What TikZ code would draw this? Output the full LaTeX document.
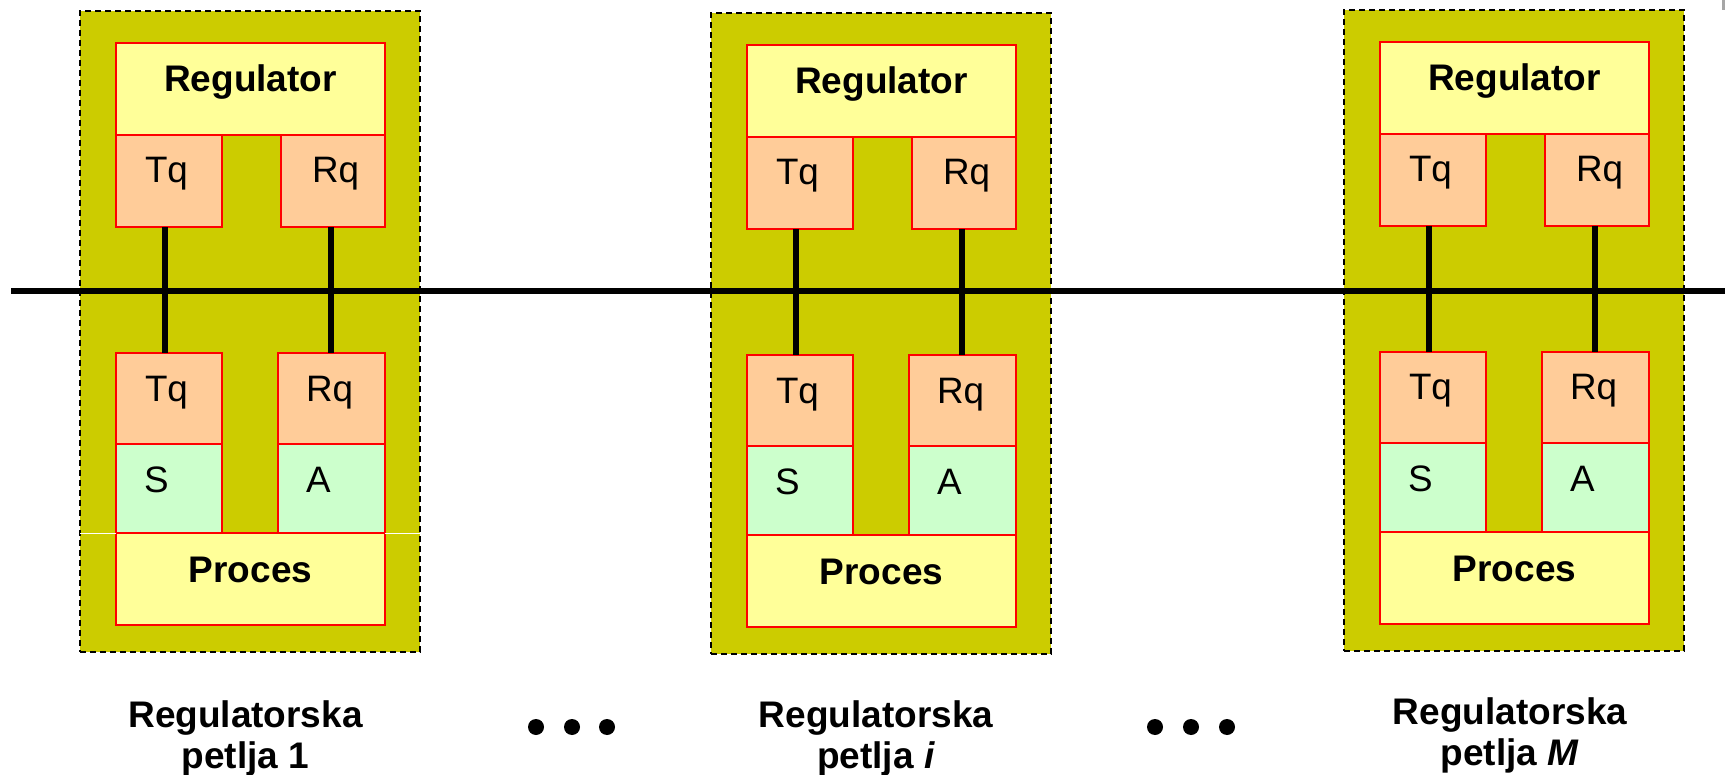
\documentclass[tikz,border=0pt]{standalone}
\usepackage{fontspec}
\setmainfont{Liberation Sans}

\definecolor{loopolive}{RGB}{204,204,0}
\definecolor{partyellow}{RGB}{255,255,153}
\definecolor{partpeach}{RGB}{255,204,153}
\definecolor{partgreen}{RGB}{204,255,204}
\definecolor{partred}{RGB}{255,0,0}

\tikzset{
  every node/.style={inner sep=0pt, outer sep=0pt},
  frame/.style={draw=black, fill=loopolive, line width=0.8pt,
    dash pattern=on 3pt off 2pt, anchor=north west,
    minimum width=170pt, minimum height=320.5pt},
  part/.style={draw=partred, line width=1pt, anchor=north west},
  wide/.style={part, fill=partyellow, minimum width=134.5pt, minimum height=46pt},
  qpart/.style={part, fill=partpeach},
  iopart/.style={part, fill=partgreen},
  plain/.style={font=\fontsize{18.4pt}{21pt}\selectfont, anchor=base west},
  heavy/.style={font=\fontsize{18.5pt}{21pt}\selectfont\bfseries, anchor=base},
  caption/.style={font=\fontsize{18.5pt}{21pt}\selectfont\bfseries, anchor=base},
  wire/.style={line width=2.6pt, black},
  bus/.style={line width=3pt, black},
  dot/.style={circle, fill=black, minimum size=8pt},
}

% one control loop: regulator and process with their queues
\newcommand\ctrlloop[3]{%
  \begin{scope}[shift={(#2,#3)}]
    \node[frame] (#1frame) at (0,0) {};
    \node[wide] (#1reg) at (36,32) {};
    \node[heavy] (#1regtxt) at (170.5,81) {Regulator};
    \node[qpart, minimum width=53pt, minimum height=46pt] (#1tq) at (36,124) {};
    \node[qpart, minimum width=52pt, minimum height=46pt] (#1rq) at (201,124) {};
    \node[plain] (#1tqtxt) at (65,172) {Tq};
    \node[plain] (#1rqtxt) at (232,172) {Rq};
    \node[qpart, minimum width=53pt, minimum height=45.5pt] (#1btq) at (36,342) {};
    \node[qpart, minimum width=53.5pt, minimum height=45.5pt] (#1brq) at (198,342) {};
    \node[plain] (#1btqtxt) at (65,390) {Tq};
    \node[plain] (#1brqtxt) at (226,390) {Rq};
    \node[iopart, minimum width=53pt, minimum height=44.5pt] (#1s) at (36,433) {};
    \node[iopart, minimum width=53.5pt, minimum height=44.5pt] (#1a) at (198,433) {};
    \node[plain] (#1stxt) at (64,481) {S};
    \node[plain] (#1atxt) at (226,481) {A};
    \node[wide] (#1proc) at (36,522) {};
    \node[heavy] (#1proctxt) at (170.5,571) {Proces};
  \end{scope}}

\begin{document}
\begin{tikzpicture}[x=0.5pt, y=-0.5pt]
  \useasboundingbox (0,0) rectangle (1725,775);

  \ctrlloop{p1}{80}{11}
  \ctrlloop{p2}{711}{13}
  \ctrlloop{p3}{1344}{10}

  % thin light seam at the process edge of the first loop
  \draw[white, line width=0.5pt] (p1frame.west |- p1proc.north) -- (p1proc.north west);
  \draw[white, line width=0.5pt] (p1proc.north east) -- (p1frame.east |- p1proc.north);

  % communication bus
  \coordinate (busL) at (11,291);
  \coordinate (busR) at (1725,291);
  \draw[bus] (busL) -- (busR);

  % queue links across the bus
  \foreach \p in {p1,p2,p3} {
    \draw[wire] ([xshift=-2pt]\p tq.south) -- ([xshift=-2pt]\p tq.south |- \p btq.north);
    \draw[wire] ([xshift=-1pt]\p rq.south) -- ([xshift=-1pt]\p rq.south |- \p brq.north);
  }

  % captions
  \node[caption] (c1a) at (245.5,727) {Regulatorska};
  \node[caption] (c1b) at (245.5,768) {petlja 1};
  \node[caption] (c2a) at (876,727) {Regulatorska};
  \node[caption] (c2b) at (876,768) {petlja \textit{i}};
  \node[caption] (c3a) at (1510,724) {Regulatorska};
  \node[caption] (c3b) at (1510,765) {petlja \textit{M}};

  % ellipsis dots between loops
  \node[dot] (d1) at (536,727) {};
  \node[dot] (d2) at (572,727) {};
  \node[dot] (d3) at (607,727) {};
  \node[dot] (d4) at (1155,727) {};
  \node[dot] (d5) at (1191,727) {};
  \node[dot] (d6) at (1227,727) {};

  % small mark in the corner
  \fill[gray!70] (1722,0) rectangle (1725,10);
\end{tikzpicture}
\end{document}
